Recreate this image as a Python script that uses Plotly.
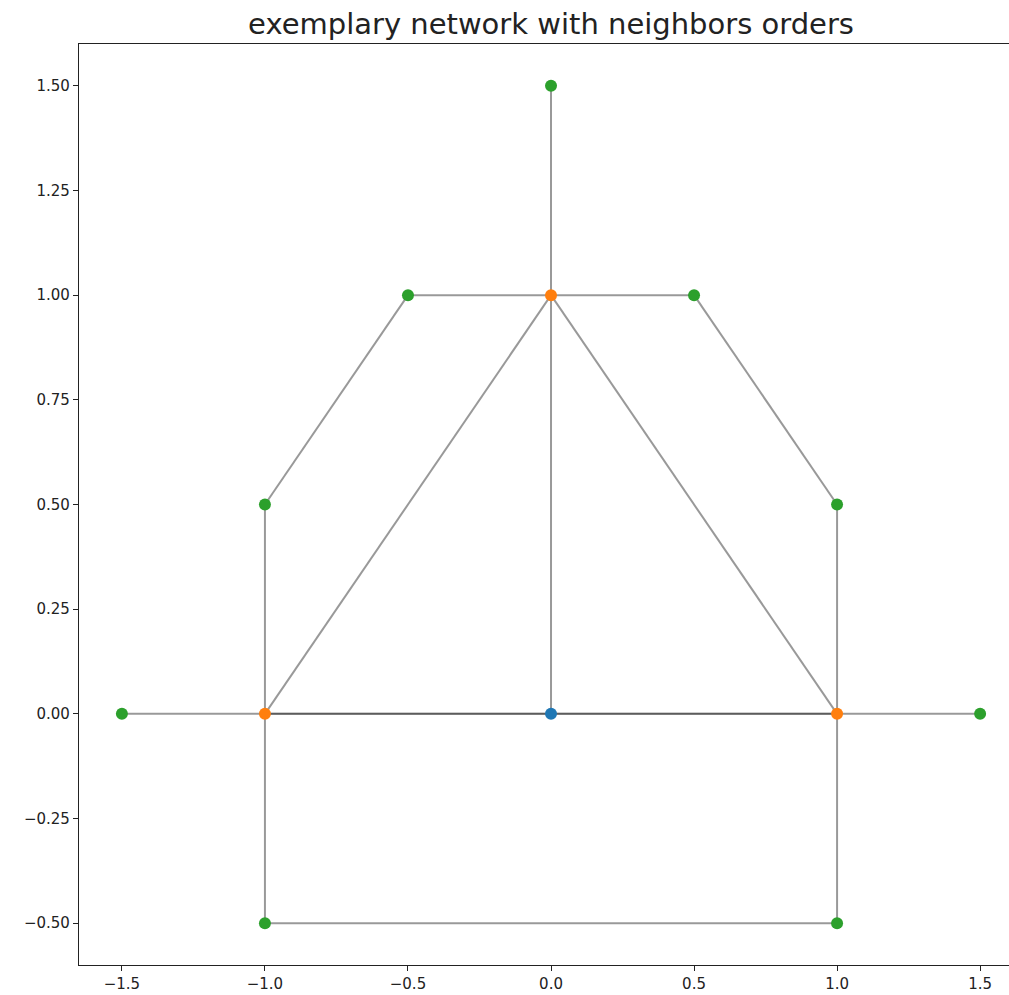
import plotly.graph_objects as go

# Node coordinates, grouped by neighbour order
center_x = [0.0]
center_y = [0.0]
first_x = [-1.0, 1.0, 0.0]
first_y = [0.0, 0.0, 1.0]
second_x = [-1.5, 1.5, -1.0, 1.0, -0.5, 0.5, 0.0, -1.0, 1.0]
second_y = [0.0, 0.0, 0.5, 0.5, 1.0, 1.0, 1.5, -0.5, -0.5]

# Edges as pairs of (x, y) endpoints
edges = [
    ((-1.5, 0.0), (-1.0, 0.0)),
    ((-1.0, 0.0), (0.0, 0.0)),
    ((0.0, 0.0), (1.0, 0.0)),
    ((-1.0, 0.0), (1.0, 0.0)),
    ((1.0, 0.0), (1.5, 0.0)),
    ((0.0, 0.0), (0.0, 1.0)),
    ((-1.0, 0.0), (0.0, 1.0)),
    ((1.0, 0.0), (0.0, 1.0)),
    ((-1.0, 0.0), (-1.0, 0.5)),
    ((-1.0, 0.5), (-0.5, 1.0)),
    ((-0.5, 1.0), (0.0, 1.0)),
    ((0.0, 1.0), (0.5, 1.0)),
    ((0.5, 1.0), (1.0, 0.5)),
    ((1.0, 0.5), (1.0, 0.0)),
    ((0.0, 1.0), (0.0, 1.5)),
    ((-1.0, 0.0), (-1.0, -0.5)),
    ((-1.0, -0.5), (1.0, -0.5)),
    ((1.0, -0.5), (1.0, 0.0)),
]

x_ticks = [-1.5, -1.0, -0.5, 0.0, 0.5, 1.0, 1.5]
y_ticks = [-0.5, -0.25, 0.0, 0.25, 0.5, 0.75, 1.0, 1.25, 1.5]

fig = go.Figure()

for (x0, y0), (x1, y1) in edges:
    fig.add_trace(go.Scatter(
        x=[x0, x1], y=[y0, y1], mode="lines",
        line=dict(color="rgba(0,0,0,0.4)", width=2),
        hoverinfo="skip", showlegend=False,
    ))

for xs, ys, col in [(center_x, center_y, "#1f77b4"),
                    (first_x, first_y, "#ff7f0e"),
                    (second_x, second_y, "#2ca02c")]:
    fig.add_trace(go.Scatter(
        x=xs, y=ys, mode="markers",
        marker=dict(color=col, size=12, line=dict(width=0)),
        showlegend=False,
    ))

W, H = 1009, 995
fig.update_layout(
    width=W, height=H,
    margin=dict(l=79, r=0, t=44, b=30),
    paper_bgcolor="white", plot_bgcolor="white",
    font=dict(family="DejaVu Sans", size=15, color="#222"),
    title=dict(
        text="exemplary network with neighbors orders",
        font=dict(family="DejaVu Sans", size=29, color="#222"),
        xref="container", x=551 / W, xanchor="center",
        yref="container", y=1 - 24 / H, yanchor="middle",
    ),
)
fig.update_xaxes(
    range=[-1.65, 1.601], tickvals=x_ticks, tickformat=".1f",
    showgrid=False, zeroline=False,
    showline=True, linecolor="#222", linewidth=1.3, mirror=True,
    ticks="outside", ticklen=5, tickcolor="#222",
)
fig.update_yaxes(
    range=[-0.6, 1.6], tickvals=y_ticks, tickformat=".2f",
    showgrid=False, zeroline=False,
    showline=True, linecolor="#222", linewidth=1.3, mirror=False,
    ticks="outside", ticklen=5, tickcolor="#222",
)

fig.write_html("out.html")
